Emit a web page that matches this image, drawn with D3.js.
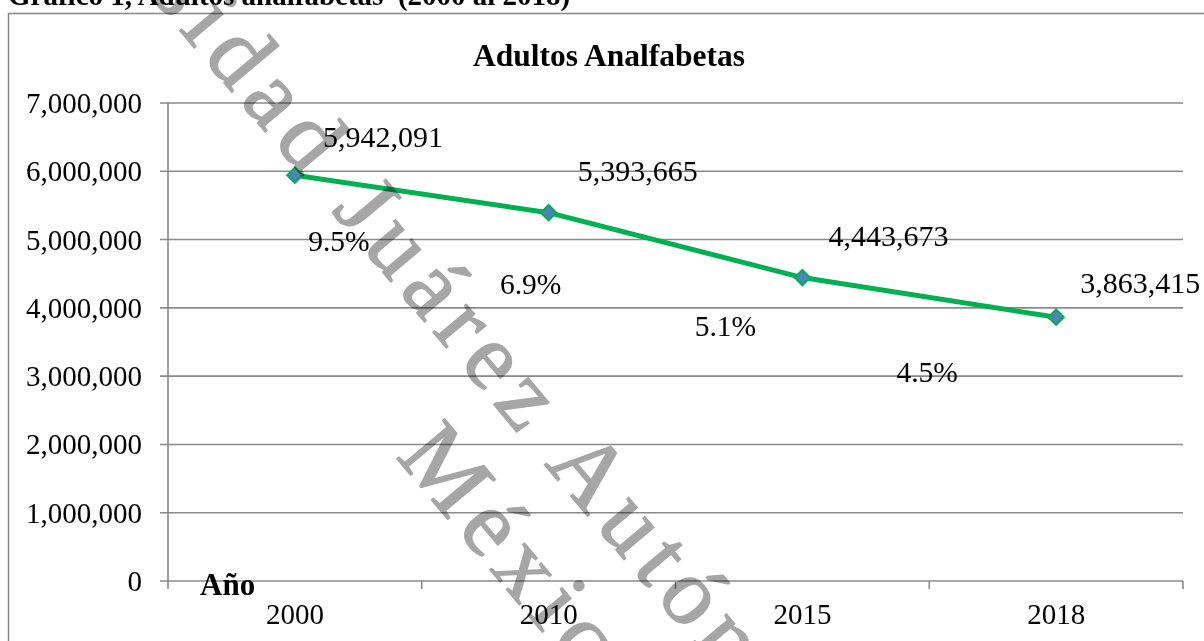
<!DOCTYPE html>
<html>
<head>
<meta charset="utf-8">
<script src="https://cdnjs.cloudflare.com/ajax/libs/d3/7.8.5/d3.min.js"></script>
<style>
  html, body { margin: 0; padding: 0; background: #fff; overflow: hidden; }
  text { font-family: "Liberation Serif", "Times New Roman", serif; white-space: pre; }
</style>
</head>
<body>
<div id="chart"></div>
<script>
// Chart data
const years = ["2000", "2010", "2015", "2018"];
const adults = [5942091, 5393665, 4443673, 3863415];
const rates = ["9.5%", "6.9%", "5.1%", "4.5%"];
const yTicks = [0, 1000000, 2000000, 3000000, 4000000, 5000000, 6000000, 7000000];

// Label offsets relative to each point (layout only)
const valueOffset = [[88, -28], [89, -32], [86, -32], [84, -24]];
const rateOffset = [[44, 76], [-18, 81], [-77, 58], [-129, 65]];

const W = 1204, H = 641;
const svg = d3.select("#chart").append("svg").attr("width", W).attr("height", H);

const plotLeft = 168, plotRight = 1183, plotTop = 103, plotBottom = 581;

const x = d3.scaleBand().domain(years).range([plotLeft, plotRight]).padding(0);
const y = d3.scaleLinear().domain([0, 7000000]).range([plotBottom, plotTop]);
const cx = d => x(d) + x.bandwidth() / 2;
const fmt = d3.format(",");

// caption above the chart box
svg.append("text")
    .attr("x", 8).attr("y", 5)
    .attr("font-size", 29).attr("font-weight", "bold")
    .text("Gráfico 1, Adultos analfabetas  (2000 al 2018)");

// chart border
svg.append("rect")
    .attr("x", 8.5).attr("y", 13.5)
    .attr("width", 1400).attr("height", 800)
    .attr("fill", "none").attr("stroke", "#868686").attr("stroke-width", 1.5);

// title
svg.append("text")
    .attr("x", 609).attr("y", 66)
    .attr("text-anchor", "middle")
    .attr("font-size", 31.5).attr("font-weight", "bold")
    .text("Adultos Analfabetas");

// gridlines + y ticks
svg.append("g").selectAll("line")
    .data(yTicks)
    .join("line")
    .attr("x1", plotLeft - 8).attr("x2", plotRight)
    .attr("y1", d => y(d)).attr("y2", d => y(d))
    .attr("stroke", "#8a8a8a").attr("stroke-width", 1.6);

svg.append("g").selectAll("text")
    .data(yTicks)
    .join("text")
    .attr("x", 142).attr("y", d => y(d) + 10)
    .attr("text-anchor", "end")
    .attr("font-size", 29)
    .text(d => fmt(d));

// y axis line
svg.append("line")
    .attr("x1", plotLeft).attr("x2", plotLeft)
    .attr("y1", plotTop).attr("y2", plotBottom + 8)
    .attr("stroke", "#8a8a8a").attr("stroke-width", 1.6);

// x axis ticks at band edges
const edges = years.map(d => x(d)).concat([plotRight]);
svg.append("g").selectAll("line")
    .data(edges.slice(1))
    .join("line")
    .attr("x1", d => d).attr("x2", d => d)
    .attr("y1", plotBottom).attr("y2", plotBottom + 8)
    .attr("stroke", "#8a8a8a").attr("stroke-width", 1.6);

svg.append("g").selectAll("text")
    .data(years)
    .join("text")
    .attr("x", d => cx(d)).attr("y", 624)
    .attr("text-anchor", "middle")
    .attr("font-size", 29)
    .text(d => d);

// the line
const line = d3.line()
    .x((d, i) => cx(years[i]))
    .y(d => y(d));

svg.append("path")
    .datum(adults)
    .attr("fill", "none")
    .attr("stroke", "#00B050")
    .attr("stroke-width", 5)
    .attr("stroke-linejoin", "round")
    .attr("d", line);

svg.append("g").selectAll("path")
    .data(adults)
    .join("path")
    .attr("transform", (d, i) => `translate(${cx(years[i])},${y(d)})`)
    .attr("d", d3.symbol(d3.symbolDiamond2, 150))
    .attr("fill", "#4F81BD")
    .attr("stroke", "#00B050")
    .attr("stroke-width", 2);

// watermark (multiplied over the chart)
const wm = svg.append("g")
    .attr("transform", "translate(547,468) rotate(50)")
    .style("mix-blend-mode", "multiply")
    .attr("fill", "#a6a6a6")
    .attr("stroke", "#a6a6a6")
    .attr("stroke-width", 1.5)
    .attr("font-size", 95)
    .attr("letter-spacing", 10);
wm.append("text").attr("x", -944).attr("y", 0).text("Universidad Juárez Autónoma de Tabasco");
wm.append("text").attr("x", -106).attr("y", 109).text("México");

// axis name
svg.append("text")
    .attr("x", 200).attr("y", 595)
    .attr("font-size", 31).attr("font-weight", "bold")
    .text("Año");

// value labels
svg.append("g").selectAll("text")
    .data(adults)
    .join("text")
    .attr("x", (d, i) => cx(years[i]) + valueOffset[i][0])
    .attr("y", (d, i) => y(d) + valueOffset[i][1])
    .attr("text-anchor", "middle")
    .attr("font-size", 30)
    .text(d => fmt(d));

// rate labels
svg.append("g").selectAll("text")
    .data(rates)
    .join("text")
    .attr("x", (d, i) => cx(years[i]) + rateOffset[i][0])
    .attr("y", (d, i) => y(adults[i]) + rateOffset[i][1])
    .attr("text-anchor", "middle")
    .attr("font-size", 29.5)
    .text(d => d);
</script>
</body>
</html>
